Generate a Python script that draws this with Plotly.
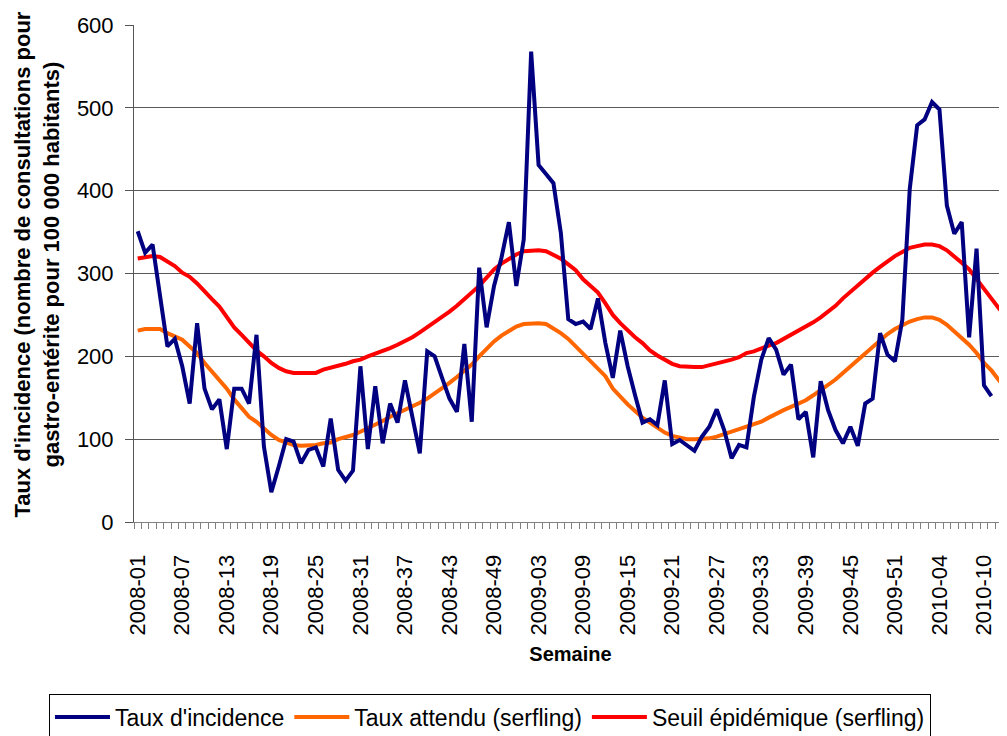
import plotly.graph_objects as go

# Week categories (ISO weeks): 2008 has 52 weeks, 2009 has 53 weeks
weeks = ([f"2008-{w:02d}" for w in range(1, 53)]
         + [f"2009-{w:02d}" for w in range(1, 54)]
         + [f"2010-{w:02d}" for w in range(1, 14)])

incidence = [351, 325, 335, 274, 212, 221, 188, 143, 240, 161,
             136, 148, 88, 161, 161, 143, 226, 91, 36, 67,
             100, 97, 71, 87, 90, 67, 125, 63, 50, 62,
             188, 88, 164, 95, 143, 120, 171, 127, 83, 206,
             200, 174, 149, 133, 215, 121, 307, 235, 285, 319,
             362, 285, 341, 568, 431, 420, 409, 349, 245, 239,
             242, 233, 270, 216, 174, 231, 188, 153, 120, 124,
             117, 171, 94, 99, 92, 86, 103, 115, 136, 111,
             77, 93, 90, 151, 196, 222, 208, 178, 190, 124,
             133, 78, 170, 135, 111, 95, 115, 92, 143, 149,
             228, 202, 194, 244, 402, 479, 486, 507, 498, 382,
             348, 362, 223, 330, 165, 152]

attendu = [231, 233, 233, 233, 228, 224, 220, 212, 204, 192,
           182, 172, 161, 148, 138, 127, 121, 113, 105, 99,
           96, 93, 92, 92, 93, 95, 96, 100, 102, 105,
           109, 113, 117, 122, 127, 131, 136, 140, 144, 149,
           155, 161, 168, 175, 182, 190, 200, 209, 218, 225,
           231, 236, 239, 240, 240, 239, 234, 228, 221, 212,
           202, 194, 184, 176, 161, 151, 142, 134, 126, 120,
           114, 108, 104, 102, 100, 100, 100, 101, 103, 106,
           110, 113, 115, 118, 121, 126, 131, 135, 139, 143,
           147, 153, 159, 165, 172, 180, 188, 196, 204, 212,
           220, 227, 233, 238, 242, 245, 247, 247, 244, 238,
           230, 221, 214, 204, 192, 183, 172, 160]

seuil = [318, 320, 321, 320, 315, 309, 301, 296, 288, 278,
         269, 260, 248, 235, 226, 217, 207, 200, 192, 186,
         182, 180, 180, 180, 180, 184, 186, 188, 191, 194,
         196, 200, 203, 207, 210, 214, 218, 223, 229, 235,
         241, 247, 254, 261, 269, 277, 285, 295, 305, 312,
         318, 323, 327, 328, 328, 327, 323, 318, 311, 304,
         293, 285, 277, 264, 250, 240, 231, 223, 216, 207,
         201, 196, 191, 188, 187, 187, 187, 189, 191, 193,
         196, 199, 204, 206, 210, 213, 216, 221, 226, 230,
         235, 241, 247, 254, 261, 270, 278, 286, 293, 301,
         308, 315, 321, 326, 331, 333, 335, 335, 333, 328,
         321, 313, 305, 293, 281, 268, 258, 248]

names = ["Taux d'incidence", "Taux attendu (serfling)", "Seuil épidémique (serfling)"]
colors = ["#000080", "#FF6600", "#FF0000"]
y_title = "Taux d'incidence (nombre de consultations pour<br>gastro-entérite pour 100 000 habitants)"

FONT = "Liberation Sans, Arial, sans-serif"

xpos = list(range(len(weeks)))
tick_idx = xpos[::6]
tick_txt = weeks[::6]

fig = go.Figure()
fig.add_trace(go.Scatter(x=xpos[:len(attendu)], y=attendu, mode="lines", name=names[1],
                         line=dict(color=colors[1], width=4), legendrank=2))
fig.add_trace(go.Scatter(x=xpos[:len(seuil)], y=seuil, mode="lines", name=names[2],
                         line=dict(color=colors[2], width=4), legendrank=3))
fig.add_trace(go.Scatter(x=xpos[:len(incidence)], y=incidence, mode="lines", name=names[0],
                         line=dict(color=colors[0], width=4), legendrank=1))

fig.add_annotation(
    text=y_title, textangle=-90, showarrow=False,
    xref="paper", yref="paper", x=-0.1105, y=0.517,
    xanchor="center", yanchor="middle",
    font=dict(family=FONT, size=22, color="black", weight="bold"),
)

fig.update_layout(
    width=1007, height=736,
    margin=dict(l=126, r=8, t=17, b=222, autoexpand=False),
    paper_bgcolor="white", plot_bgcolor="white",
    font=dict(family=FONT, size=22, color="black"),
    showlegend=True,
    legend=dict(
        orientation="h", x=-0.0974, xanchor="left", y=-0.347, yanchor="top",
        bordercolor="black", borderwidth=1, bgcolor="white",
        font=dict(family=FONT, size=23, color="black"),
        itemwidth=55, traceorder="normal",
    ),
    xaxis=dict(
        range=[-0.5, 117.1], showgrid=False, zeroline=False,
        showline=True, linecolor="#808080", linewidth=1,
        tickmode="array", tickvals=tick_idx, ticktext=tick_txt,
        tickangle=-90, ticks="", ticklabelstandoff=23,
        tickfont=dict(family=FONT, size=22, color="black"),
        minor=dict(ticks="outside", tick0=-0.5, dtick=1, ticklen=6,
                   tickcolor="#808080", tickwidth=1, showgrid=False),
        title=dict(text="Semaine", standoff=12,
                   font=dict(family=FONT, size=20, color="black", weight="bold")),
    ),
    yaxis=dict(
        range=[0, 600], dtick=100, tick0=0,
        showgrid=True, gridcolor="#5a5a5a", gridwidth=1, zeroline=False,
        showline=True, linecolor="#555555", linewidth=1,
        ticks="outside", ticklen=8, tickcolor="#555555", ticklabelstandoff=7,
        tickfont=dict(family=FONT, size=22, color="black"),
    ),
)

fig.write_html("out.html")
